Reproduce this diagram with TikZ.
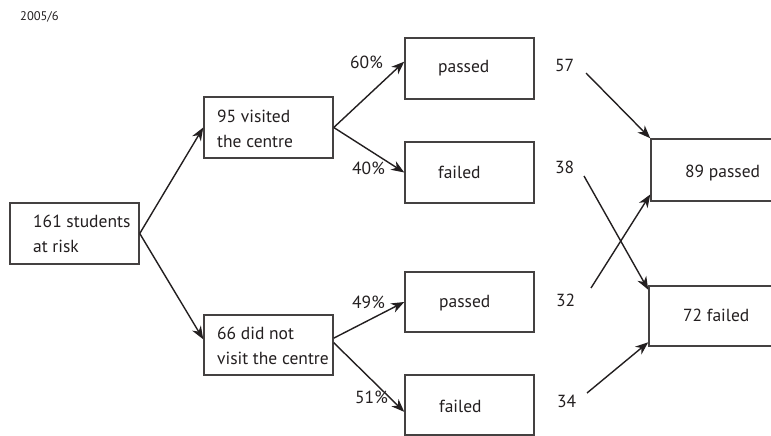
\documentclass[tikz,border=0pt]{standalone}
\usepackage{fontspec}
\setmainfont{PT Sans}
\usetikzlibrary{arrows.meta}
\definecolor{ink}{HTML}{231F20}
\tikzset{
  box/.style={draw=ink!85, line width=1.5pt, inner sep=0pt, minimum width=129pt, minimum height=61pt},
  txt/.style={inner sep=0pt, text=ink, font=\fontsize{17.5}{25}\selectfont, align=left},
  conn/.style={draw=ink, line width=1.4pt, -{Stealth[length=13pt, width=10pt, inset=4pt]}}
}
\begin{document}
\begin{tikzpicture}[x=1pt,y=-1pt]
\useasboundingbox (0,0) rectangle (771,436);
\fill[white] (0,0) rectangle (771,436);
% title
\node[txt, anchor=base west, font=\fontsize{12.5}{15}\selectfont] (year) at (20,21) {2005/6};
% boxes
\node[box] (s161) at (74.5,233.5) {};
\node[box] (v95) at (268.5,127.5) {};
\node[box, minimum height=60pt] (n66) at (268.5,345) {};
\node[box] (p1) at (469.5,68.5) {};
\node[box] (f1) at (469.5,172.5) {};
\node[box, minimum height=60pt] (p2) at (469.5,302) {};
\node[box, minimum height=60pt] (f2) at (469.5,405) {};
\node[box, minimum width=149pt, minimum height=62pt] (P89) at (725.5,170) {};
\node[box, minimum width=151pt, minimum height=60pt] (F72) at (724.5,316) {};
% box texts
\node[txt, anchor=west] (t161) at (33,233.5) {161 students\\at risk};
\node[txt, anchor=west] (tv95) at (217,129) {95 visited\\the centre};
\node[txt, anchor=west] (tn66) at (217,345.5) {66 did not\\visit the centre};
\node[txt, anchor=base west] (tp1) at (438,73) {passed};
\node[txt, anchor=base west] (tf1) at (438,178) {failed};
\node[txt, anchor=base west] (tp2) at (439,307) {passed};
\node[txt, anchor=base west] (tf2) at (439,412) {failed};
\node[txt, anchor=base west] (tP89) at (685,177) {89 passed};
\node[txt, anchor=base west] (tF72) at (683,321) {72 failed};
% percentages
\node[txt, anchor=base west] (l60) at (350,69) {60\%};
\node[txt, anchor=base west] (l40) at (352,174) {40\%};
\node[txt, anchor=base west] (l49) at (352,308) {49\%};
\node[txt, anchor=base west] (l51) at (355,403) {51\%};
% counts
\node[txt, anchor=base west] (c57) at (555,72) {57};
\node[txt, anchor=base west] (c38) at (555,173) {38};
\node[txt, anchor=base west] (c32) at (556,306) {32};
\node[txt, anchor=base west] (c34) at (557,407) {34};
\coordinate (a57) at (586,73);
\coordinate (a38) at (584,176);
\coordinate (a32) at (591,288);
\coordinate (a34) at (587,393);
% connectors
\draw[conn] (s161.east) -- (v95.west);
\draw[conn] (s161.east) -- (n66.175);
\draw[conn] (v95.east) -- (p1.174);
\draw[conn] (v95.east) -- (f1.west);
\draw[conn] (n66.6) -- (p2.west);
\draw[conn] (n66.2) -- (f2.186);
\draw[conn] (a57) -- (P89.north west);
\draw[conn] (a38) -- (F72.161);
\draw[conn] (a32) -- (P89.198);
\draw[conn] (a34) -- (F72.199);
\end{tikzpicture}
\end{document}
